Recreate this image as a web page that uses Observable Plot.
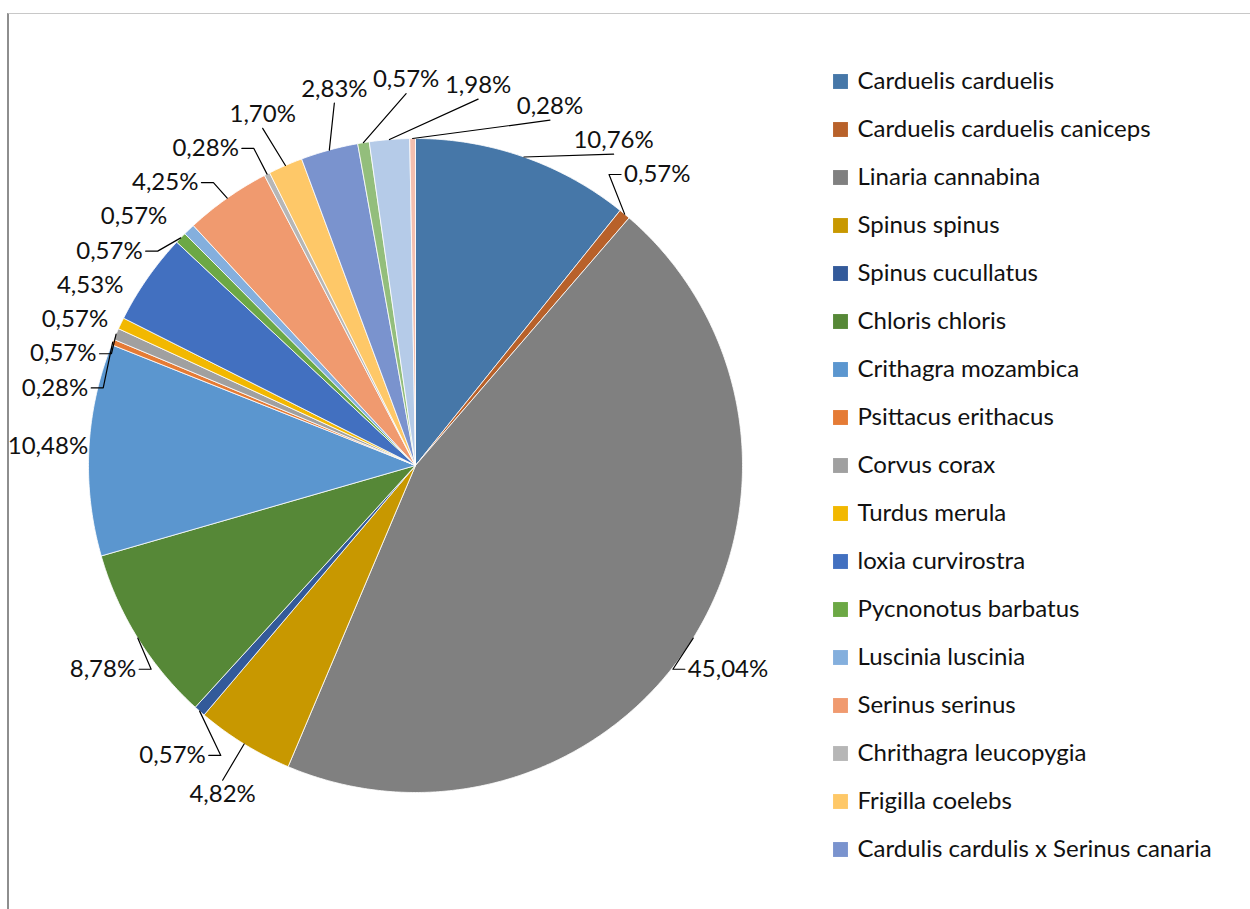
<!DOCTYPE html>
<html><head><meta charset="utf-8">
<script src="https://cdn.jsdelivr.net/npm/d3@7"></script>
<script src="https://cdn.jsdelivr.net/npm/@observablehq/plot@0.6"></script>
<style>
body{margin:0;background:#fff;}
#wrap{position:relative;width:1250px;height:909px;overflow:hidden;font-family:Lato,sans-serif;background:#fff;}
#frame{position:absolute;left:7px;top:13px;right:-4px;bottom:-4px;border-left:2px solid #8e8e8e;border-top:1px solid #c8c8c8;}
#pie{position:absolute;left:0;top:0;}
#legend{position:absolute;left:820px;top:0;}
</style></head><body>
<div id="wrap"><div id="frame"></div><div id="pie"></div><div id="legend"></div></div>
<script>
// ---- data ----
const species = [
  "Carduelis carduelis", "Carduelis carduelis caniceps", "Linaria cannabina", "Spinus spinus",
  "Spinus cucullatus", "Chloris chloris", "Crithagra mozambica", "Psittacus erithacus",
  "Corvus corax", "Turdus merula", "loxia curvirostra", "Pycnonotus barbatus",
  "Luscinia luscinia", "Serinus serinus", "Chrithagra leucopygia", "Frigilla coelebs",
  "Cardulis cardulis x Serinus canaria", "(category 18)", "(category 19)", "(category 20)"
];
const shares = [10.76, 0.57, 45.04, 4.82, 0.57, 8.78, 10.48, 0.28, 0.57, 0.57,
                4.53, 0.57, 0.57, 4.25, 0.28, 1.70, 2.83, 0.57, 1.98, 0.28];
const legendShown = 17; // the reference legend is cut off after 17 entries
const palette = ["#4677a8", "#b8612a", "#808080", "#c89800", "#335a9a", "#568837",
                 "#5b96cf", "#e57b35", "#a0a0a0", "#f2b800", "#4270c0", "#6ca845",
                 "#84afdd", "#f09a6f", "#b6b6b6", "#fec868", "#7a93ce", "#93be7c",
                 "#b5cbe8", "#f4bfaf"];

// ---- layout ----
const W = 1250, H = 909, CX = 415, CY = 465, R = 327;
const LX = 368, LY = 386; // label ellipse radii (px)
const FONT = "Lato";
const FS = 24;

const arcs = d3.pie().sort(null).value(d => d)(shares);

// wedge polygons in unit coordinates
const wedgePts = [];
arcs.forEach((a, i) => {
  const n = Math.max(2, Math.ceil((a.endAngle - a.startAngle) / (Math.PI / 360)));
  wedgePts.push({name: species[i], x: 0, y: 0});
  for (let k = 0; k <= n; k++) {
    const t = a.startAngle + (a.endAngle - a.startAngle) * k / n;
    wedgePts.push({name: species[i], x: Math.sin(t), y: Math.cos(t)});
  }
  wedgePts.push({name: species[i], x: 0, y: 0});
});

// label layout (collision avoidance along an ellipse around the pie)
const ctx = document.createElement("canvas").getContext("2d");
ctx.font = `${FS}px ${FONT}`;
const fmt = v => d3.format(".2f")(v).replace(".", ",") + "%";
const labels = arcs.map((a, i) => {
  const mid = (a.startAngle + a.endAngle) / 2;
  const text = fmt(shares[i]);
  const tw = ctx.measureText(text).width;
  return {i, mid, ang: mid, text, tw, w: tw + 5, h: 34};
});
const pos = l => [CX + LX * Math.sin(l.ang), CY - LY * Math.cos(l.ang)];
for (let it = 0; it < 12000; it++) {
  let moved = false;
  for (let i = 0; i < labels.length; i++) for (let j = i + 1; j < labels.length; j++) {
    const li = labels[i], lj = labels[j];
    const [xi, yi] = pos(li), [xj, yj] = pos(lj);
    if (Math.abs(xi - xj) < (li.w + lj.w) / 2 && Math.abs(yi - yj) < (li.h + lj.h) / 2) {
      let d = lj.ang - li.ang;
      d = ((d + 3 * Math.PI) % (2 * Math.PI)) - Math.PI;
      const s = 0.0012;
      if (d >= 0) { li.ang -= s; lj.ang += s; } else { li.ang += s; lj.ang -= s; }
      moved = true;
    }
  }
  if (!moved) break;
}
const toU = (px, py) => ({x: (px - CX) / R, y: (CY - py) / R});
const labelRows = labels.map(l => {
  const [px, py] = pos(l);
  return {...toU(px, py), text: l.text};
});
const leaderPts = [];
labels.forEach(l => {
  const [px, py] = pos(l);
  const ax = CX + R * Math.sin(l.mid), ay = CY - R * Math.cos(l.mid);
  const s = Math.sin(l.ang), c = Math.cos(l.ang);
  let pts;
  if (Math.abs(s) > 0.55) {
    const side = s > 0 ? -1 : 1; // attach to the side facing the pie
    const ex = px + side * (l.tw / 2 + 3);
    pts = [[ax, ay], [ex + side * 12, py], [ex, py]];
  } else {
    const ey = c > 0 ? py + 14 : py - 14;
    pts = [[ax, ay], [px, ey]];
  }
  const last = pts[pts.length - 1];
  if (Math.hypot(last[0] - ax, last[1] - ay) > 24) {
    pts.forEach(p => leaderPts.push({id: l.i, ...toU(p[0], p[1])}));
  }
});

const color = {domain: species, range: palette, type: "ordinal"};

const pie = Plot.plot({
  width: W, height: H, margin: 0,
  style: {fontFamily: FONT, fontSize: FS + "px", background: "transparent", overflow: "visible"},
  x: {domain: [-1, 1], range: [CX - R, CX + R], axis: null},
  y: {domain: [-1, 1], range: [CY + R, CY - R], axis: null},
  color,
  marks: [
    Plot.line(wedgePts, {x: "x", y: "y", z: "name", fill: "name", stroke: "white", strokeWidth: 0.8, curve: "linear"}),
    Plot.line(leaderPts, {x: "x", y: "y", z: "id", stroke: "#000", strokeWidth: 1.2, curve: "linear"}),
    Plot.text(labelRows, {x: "x", y: "y", text: "text", fontSize: FS, fill: "#111", textAnchor: "middle", lineAnchor: "middle"})
  ]
});
document.getElementById("pie").appendChild(pie);

const legendNames = species.slice(0, legendShown);
const legend = Plot.plot({
  width: 430, height: H, margin: 0,
  style: {fontFamily: FONT, fontSize: FS + "px", background: "transparent", overflow: "visible"},
  y: {type: "point", domain: legendNames, range: [78, 852], padding: 0, axis: null},
  color,
  marks: [
    Plot.dot(legendNames, {y: d => d, frameAnchor: "left", dx: 20, symbol: "square", r: 8.4, fill: d => d}),
    Plot.text(legendNames, {y: d => d, frameAnchor: "left", dx: 37, text: d => d, textAnchor: "start", fontSize: FS, fill: "#111"})
  ]
});
document.getElementById("legend").appendChild(legend);
</script>
</body></html>
